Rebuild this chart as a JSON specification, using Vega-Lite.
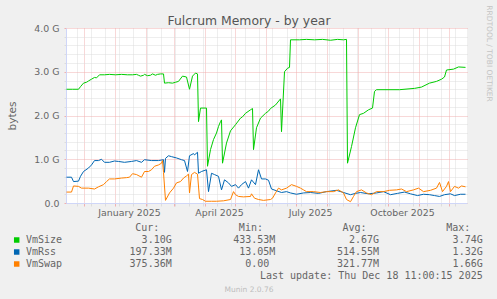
{
 "$schema": "https://vega.github.io/schema/vega-lite/v6.json",
 "width": 401,
 "height": 175,
 "autosize": {"type": "none"},
 "padding": {"left": 66, "top": 28, "right": 30, "bottom": 96},
 "background": "#f0f0f0",
 "view": {"fill": "#ffffff", "stroke": null},
 "config": {"font": "DejaVu Sans"},
 "datasets": {
  "mem": [
   {"date":"2024-11-14","series":"VmSize","value":2.60},{"date":"2024-11-20","series":"VmSize","value":2.60},{"date":"2024-11-26","series":"VmSize","value":2.60},{"date":"2024-11-28","series":"VmSize","value":2.66},{"date":"2024-12-01","series":"VmSize","value":2.74},{"date":"2024-12-04","series":"VmSize","value":2.76},{"date":"2024-12-06","series":"VmSize","value":2.79},{"date":"2024-12-09","series":"VmSize","value":2.83},{"date":"2024-12-12","series":"VmSize","value":2.87},{"date":"2024-12-14","series":"VmSize","value":2.86},{"date":"2024-12-17","series":"VmSize","value":2.93},{"date":"2024-12-22","series":"VmSize","value":2.93},{"date":"2024-12-27","series":"VmSize","value":2.94},{"date":"2025-01-02","series":"VmSize","value":2.93},{"date":"2025-01-08","series":"VmSize","value":2.94},{"date":"2025-01-14","series":"VmSize","value":2.93},{"date":"2025-01-19","series":"VmSize","value":2.93},{"date":"2025-01-23","series":"VmSize","value":2.94},{"date":"2025-01-25","series":"VmSize","value":2.92},{"date":"2025-01-27","series":"VmSize","value":2.90},{"date":"2025-01-30","series":"VmSize","value":2.92},{"date":"2025-01-31","series":"VmSize","value":2.94},{"date":"2025-02-03","series":"VmSize","value":2.91},{"date":"2025-02-06","series":"VmSize","value":2.92},{"date":"2025-02-08","series":"VmSize","value":2.95},{"date":"2025-02-11","series":"VmSize","value":2.92},{"date":"2025-02-13","series":"VmSize","value":2.94},{"date":"2025-02-16","series":"VmSize","value":2.95},{"date":"2025-02-19","series":"VmSize","value":2.95},{"date":"2025-02-20","series":"VmSize","value":2.74},{"date":"2025-02-24","series":"VmSize","value":2.75},{"date":"2025-02-28","series":"VmSize","value":2.74},{"date":"2025-03-03","series":"VmSize","value":2.76},{"date":"2025-03-06","series":"VmSize","value":2.78},{"date":"2025-03-10","series":"VmSize","value":2.90},{"date":"2025-03-14","series":"VmSize","value":2.88},{"date":"2025-03-17","series":"VmSize","value":2.60},{"date":"2025-03-20","series":"VmSize","value":2.90},{"date":"2025-03-23","series":"VmSize","value":2.97},{"date":"2025-03-25","series":"VmSize","value":2.95},{"date":"2025-03-26","series":"VmSize","value":1.86},{"date":"2025-03-28","series":"VmSize","value":2.17},{"date":"2025-04-03","series":"VmSize","value":2.17},{"date":"2025-04-04","series":"VmSize","value":0.84},{"date":"2025-04-07","series":"VmSize","value":1.22},{"date":"2025-04-10","series":"VmSize","value":1.45},{"date":"2025-04-13","series":"VmSize","value":1.60},{"date":"2025-04-15","series":"VmSize","value":1.75},{"date":"2025-04-17","series":"VmSize","value":1.86},{"date":"2025-04-18","series":"VmSize","value":1.90},{"date":"2025-04-19","series":"VmSize","value":0.91},{"date":"2025-04-23","series":"VmSize","value":1.37},{"date":"2025-04-27","series":"VmSize","value":1.65},{"date":"2025-05-02","series":"VmSize","value":1.79},{"date":"2025-05-07","series":"VmSize","value":1.94},{"date":"2025-05-09","series":"VmSize","value":1.97},{"date":"2025-05-12","series":"VmSize","value":2.05},{"date":"2025-05-17","series":"VmSize","value":2.13},{"date":"2025-05-19","series":"VmSize","value":2.16},{"date":"2025-05-20","series":"VmSize","value":1.22},{"date":"2025-05-23","series":"VmSize","value":1.72},{"date":"2025-05-27","series":"VmSize","value":1.94},{"date":"2025-06-01","series":"VmSize","value":2.05},{"date":"2025-06-04","series":"VmSize","value":2.10},{"date":"2025-06-06","series":"VmSize","value":2.16},{"date":"2025-06-11","series":"VmSize","value":2.24},{"date":"2025-06-16","series":"VmSize","value":2.38},{"date":"2025-06-17","series":"VmSize","value":1.63},{"date":"2025-06-20","series":"VmSize","value":3.00},{"date":"2025-06-23","series":"VmSize","value":3.08},{"date":"2025-06-25","series":"VmSize","value":3.10},{"date":"2025-06-26","series":"VmSize","value":3.73},{"date":"2025-07-05","series":"VmSize","value":3.73},{"date":"2025-07-12","series":"VmSize","value":3.74},{"date":"2025-07-20","series":"VmSize","value":3.73},{"date":"2025-07-28","series":"VmSize","value":3.74},{"date":"2025-08-05","series":"VmSize","value":3.72},{"date":"2025-08-12","series":"VmSize","value":3.74},{"date":"2025-08-18","series":"VmSize","value":3.73},{"date":"2025-08-21","series":"VmSize","value":3.74},{"date":"2025-08-22","series":"VmSize","value":0.91},{"date":"2025-08-26","series":"VmSize","value":1.29},{"date":"2025-08-30","series":"VmSize","value":1.72},{"date":"2025-09-03","series":"VmSize","value":2.02},{"date":"2025-09-07","series":"VmSize","value":2.05},{"date":"2025-09-12","series":"VmSize","value":2.13},{"date":"2025-09-16","series":"VmSize","value":2.17},{"date":"2025-09-18","series":"VmSize","value":2.55},{"date":"2025-09-20","series":"VmSize","value":2.59},{"date":"2025-10-13","series":"VmSize","value":2.59},{"date":"2025-10-28","series":"VmSize","value":2.62},{"date":"2025-11-04","series":"VmSize","value":2.65},{"date":"2025-11-12","series":"VmSize","value":2.74},{"date":"2025-11-19","series":"VmSize","value":2.78},{"date":"2025-11-24","series":"VmSize","value":2.83},{"date":"2025-11-27","series":"VmSize","value":2.88},{"date":"2025-11-29","series":"VmSize","value":3.04},{"date":"2025-12-06","series":"VmSize","value":3.06},{"date":"2025-12-11","series":"VmSize","value":3.11},{"date":"2025-12-18","series":"VmSize","value":3.10},
   {"date":"2024-11-14","series":"VmRss","value":0.59},{"date":"2024-11-19","series":"VmRss","value":0.59},{"date":"2024-11-21","series":"VmRss","value":0.49},{"date":"2024-11-26","series":"VmRss","value":0.50},{"date":"2024-11-28","series":"VmRss","value":0.61},{"date":"2024-12-01","series":"VmRss","value":0.72},{"date":"2024-12-06","series":"VmRss","value":0.80},{"date":"2024-12-09","series":"VmRss","value":0.87},{"date":"2024-12-12","series":"VmRss","value":0.97},{"date":"2024-12-16","series":"VmRss","value":0.97},{"date":"2024-12-19","series":"VmRss","value":1.00},{"date":"2024-12-22","series":"VmRss","value":0.93},{"date":"2024-12-27","series":"VmRss","value":0.93},{"date":"2025-01-01","series":"VmRss","value":0.96},{"date":"2025-01-05","series":"VmRss","value":0.95},{"date":"2025-01-11","series":"VmRss","value":0.93},{"date":"2025-01-18","series":"VmRss","value":0.95},{"date":"2025-01-23","series":"VmRss","value":0.97},{"date":"2025-01-28","series":"VmRss","value":0.93},{"date":"2025-01-31","series":"VmRss","value":0.99},{"date":"2025-02-07","series":"VmRss","value":0.97},{"date":"2025-02-14","series":"VmRss","value":0.97},{"date":"2025-02-19","series":"VmRss","value":0.99},{"date":"2025-02-20","series":"VmRss","value":0.70},{"date":"2025-02-21","series":"VmRss","value":1.02},{"date":"2025-02-24","series":"VmRss","value":1.08},{"date":"2025-02-27","series":"VmRss","value":1.06},{"date":"2025-03-04","series":"VmRss","value":1.03},{"date":"2025-03-09","series":"VmRss","value":0.99},{"date":"2025-03-12","series":"VmRss","value":0.97},{"date":"2025-03-15","series":"VmRss","value":0.72},{"date":"2025-03-17","series":"VmRss","value":1.08},{"date":"2025-03-21","series":"VmRss","value":1.13},{"date":"2025-03-22","series":"VmRss","value":1.10},{"date":"2025-03-25","series":"VmRss","value":1.16},{"date":"2025-03-26","series":"VmRss","value":0.68},{"date":"2025-03-29","series":"VmRss","value":0.72},{"date":"2025-04-03","series":"VmRss","value":0.76},{"date":"2025-04-05","series":"VmRss","value":0.26},{"date":"2025-04-08","series":"VmRss","value":0.68},{"date":"2025-04-11","series":"VmRss","value":0.65},{"date":"2025-04-15","series":"VmRss","value":0.61},{"date":"2025-04-18","series":"VmRss","value":0.30},{"date":"2025-04-21","series":"VmRss","value":0.53},{"date":"2025-04-25","series":"VmRss","value":0.46},{"date":"2025-04-28","series":"VmRss","value":0.38},{"date":"2025-05-02","series":"VmRss","value":0.42},{"date":"2025-05-05","series":"VmRss","value":0.34},{"date":"2025-05-08","series":"VmRss","value":0.42},{"date":"2025-05-12","series":"VmRss","value":0.49},{"date":"2025-05-15","series":"VmRss","value":0.34},{"date":"2025-05-18","series":"VmRss","value":0.53},{"date":"2025-05-22","series":"VmRss","value":0.42},{"date":"2025-05-25","series":"VmRss","value":0.76},{"date":"2025-05-28","series":"VmRss","value":0.55},{"date":"2025-06-01","series":"VmRss","value":0.55},{"date":"2025-06-04","series":"VmRss","value":0.52},{"date":"2025-06-07","series":"VmRss","value":0.32},{"date":"2025-06-12","series":"VmRss","value":0.28},{"date":"2025-06-17","series":"VmRss","value":0.24},{"date":"2025-06-22","series":"VmRss","value":0.26},{"date":"2025-06-26","series":"VmRss","value":0.23},{"date":"2025-07-02","series":"VmRss","value":0.20},{"date":"2025-07-09","series":"VmRss","value":0.23},{"date":"2025-07-16","series":"VmRss","value":0.24},{"date":"2025-07-24","series":"VmRss","value":0.22},{"date":"2025-08-01","series":"VmRss","value":0.26},{"date":"2025-08-11","series":"VmRss","value":0.29},{"date":"2025-08-18","series":"VmRss","value":0.24},{"date":"2025-08-25","series":"VmRss","value":0.19},{"date":"2025-08-30","series":"VmRss","value":0.22},{"date":"2025-09-04","series":"VmRss","value":0.24},{"date":"2025-09-12","series":"VmRss","value":0.21},{"date":"2025-09-20","series":"VmRss","value":0.23},{"date":"2025-09-27","series":"VmRss","value":0.26},{"date":"2025-10-04","series":"VmRss","value":0.19},{"date":"2025-10-11","series":"VmRss","value":0.22},{"date":"2025-10-18","series":"VmRss","value":0.25},{"date":"2025-10-24","series":"VmRss","value":0.21},{"date":"2025-10-31","series":"VmRss","value":0.17},{"date":"2025-11-06","series":"VmRss","value":0.20},{"date":"2025-11-12","series":"VmRss","value":0.19},{"date":"2025-11-17","series":"VmRss","value":0.17},{"date":"2025-11-22","series":"VmRss","value":0.15},{"date":"2025-11-27","series":"VmRss","value":0.19},{"date":"2025-12-03","series":"VmRss","value":0.21},{"date":"2025-12-07","series":"VmRss","value":0.17},{"date":"2025-12-13","series":"VmRss","value":0.20},{"date":"2025-12-18","series":"VmRss","value":0.20},
   {"date":"2024-11-14","series":"VmSwap","value":0.25},{"date":"2024-11-19","series":"VmSwap","value":0.25},{"date":"2024-11-21","series":"VmSwap","value":0.39},{"date":"2024-11-26","series":"VmSwap","value":0.38},{"date":"2024-11-29","series":"VmSwap","value":0.34},{"date":"2024-12-06","series":"VmSwap","value":0.34},{"date":"2024-12-12","series":"VmSwap","value":0.32},{"date":"2024-12-16","series":"VmSwap","value":0.37},{"date":"2024-12-21","series":"VmSwap","value":0.42},{"date":"2024-12-24","series":"VmSwap","value":0.49},{"date":"2024-12-27","series":"VmSwap","value":0.55},{"date":"2025-01-01","series":"VmSwap","value":0.55},{"date":"2025-01-08","series":"VmSwap","value":0.57},{"date":"2025-01-13","series":"VmSwap","value":0.58},{"date":"2025-01-16","series":"VmSwap","value":0.59},{"date":"2025-01-19","series":"VmSwap","value":0.67},{"date":"2025-01-23","series":"VmSwap","value":0.65},{"date":"2025-01-28","series":"VmSwap","value":0.59},{"date":"2025-01-31","series":"VmSwap","value":0.72},{"date":"2025-02-04","series":"VmSwap","value":0.72},{"date":"2025-02-07","series":"VmSwap","value":0.76},{"date":"2025-02-10","series":"VmSwap","value":0.84},{"date":"2025-02-14","series":"VmSwap","value":0.87},{"date":"2025-02-17","series":"VmSwap","value":0.91},{"date":"2025-02-18","series":"VmSwap","value":0.97},{"date":"2025-02-19","series":"VmSwap","value":0.70},{"date":"2025-02-21","series":"VmSwap","value":0.06},{"date":"2025-02-25","series":"VmSwap","value":0.23},{"date":"2025-03-01","series":"VmSwap","value":0.34},{"date":"2025-03-04","series":"VmSwap","value":0.46},{"date":"2025-03-08","series":"VmSwap","value":0.49},{"date":"2025-03-11","series":"VmSwap","value":0.57},{"date":"2025-03-14","series":"VmSwap","value":0.62},{"date":"2025-03-16","series":"VmSwap","value":0.66},{"date":"2025-03-17","series":"VmSwap","value":0.23},{"date":"2025-03-19","series":"VmSwap","value":0.65},{"date":"2025-03-22","series":"VmSwap","value":0.70},{"date":"2025-03-25","series":"VmSwap","value":0.66},{"date":"2025-03-27","series":"VmSwap","value":0.10},{"date":"2025-03-30","series":"VmSwap","value":0.08},{"date":"2025-04-02","series":"VmSwap","value":0.04},{"date":"2025-04-08","series":"VmSwap","value":0.04},{"date":"2025-04-13","series":"VmSwap","value":0.04},{"date":"2025-04-20","series":"VmSwap","value":0.05},{"date":"2025-04-27","series":"VmSwap","value":0.08},{"date":"2025-04-30","series":"VmSwap","value":0.26},{"date":"2025-05-02","series":"VmSwap","value":0.19},{"date":"2025-05-05","series":"VmSwap","value":0.15},{"date":"2025-05-10","series":"VmSwap","value":0.14},{"date":"2025-05-17","series":"VmSwap","value":0.15},{"date":"2025-05-18","series":"VmSwap","value":0.21},{"date":"2025-05-21","series":"VmSwap","value":0.11},{"date":"2025-05-25","series":"VmSwap","value":0.08},{"date":"2025-05-30","series":"VmSwap","value":0.06},{"date":"2025-06-06","series":"VmSwap","value":0.08},{"date":"2025-06-08","series":"VmSwap","value":0.11},{"date":"2025-06-11","series":"VmSwap","value":0.23},{"date":"2025-06-14","series":"VmSwap","value":0.34},{"date":"2025-06-17","series":"VmSwap","value":0.30},{"date":"2025-06-22","series":"VmSwap","value":0.34},{"date":"2025-06-27","series":"VmSwap","value":0.42},{"date":"2025-07-02","series":"VmSwap","value":0.38},{"date":"2025-07-06","series":"VmSwap","value":0.34},{"date":"2025-07-09","series":"VmSwap","value":0.30},{"date":"2025-07-12","series":"VmSwap","value":0.26},{"date":"2025-07-19","series":"VmSwap","value":0.26},{"date":"2025-07-26","series":"VmSwap","value":0.24},{"date":"2025-08-01","series":"VmSwap","value":0.26},{"date":"2025-08-08","series":"VmSwap","value":0.26},{"date":"2025-08-13","series":"VmSwap","value":0.30},{"date":"2025-08-18","series":"VmSwap","value":0.23},{"date":"2025-08-21","series":"VmSwap","value":0.08},{"date":"2025-08-25","series":"VmSwap","value":0.03},{"date":"2025-08-28","series":"VmSwap","value":0.15},{"date":"2025-08-31","series":"VmSwap","value":0.26},{"date":"2025-09-05","series":"VmSwap","value":0.30},{"date":"2025-09-10","series":"VmSwap","value":0.23},{"date":"2025-09-15","series":"VmSwap","value":0.19},{"date":"2025-09-20","series":"VmSwap","value":0.26},{"date":"2025-09-27","series":"VmSwap","value":0.26},{"date":"2025-10-03","series":"VmSwap","value":0.29},{"date":"2025-10-10","series":"VmSwap","value":0.30},{"date":"2025-10-15","series":"VmSwap","value":0.32},{"date":"2025-10-20","series":"VmSwap","value":0.26},{"date":"2025-10-27","series":"VmSwap","value":0.30},{"date":"2025-11-01","series":"VmSwap","value":0.34},{"date":"2025-11-06","series":"VmSwap","value":0.26},{"date":"2025-11-13","series":"VmSwap","value":0.29},{"date":"2025-11-19","series":"VmSwap","value":0.34},{"date":"2025-11-22","series":"VmSwap","value":0.47},{"date":"2025-11-25","series":"VmSwap","value":0.26},{"date":"2025-11-29","series":"VmSwap","value":0.38},{"date":"2025-12-01","series":"VmSwap","value":0.49},{"date":"2025-12-03","series":"VmSwap","value":0.26},{"date":"2025-12-07","series":"VmSwap","value":0.38},{"date":"2025-12-11","series":"VmSwap","value":0.34},{"date":"2025-12-14","series":"VmSwap","value":0.39},{"date":"2025-12-18","series":"VmSwap","value":0.37}
  ],
  "series": [{"series":"VmSize"},{"series":"VmRss"},{"series":"VmSwap"}],
  "stats": [
   {"series":"VmSize","col":"Cur","num":"3.10","unit":"G"},{"series":"VmSize","col":"Min","num":"433.53","unit":"M"},{"series":"VmSize","col":"Avg","num":"2.67","unit":"G"},{"series":"VmSize","col":"Max","num":"3.74","unit":"G"},
   {"series":"VmRss","col":"Cur","num":"197.33","unit":"M"},{"series":"VmRss","col":"Min","num":"13.05","unit":"M"},{"series":"VmRss","col":"Avg","num":"514.55","unit":"M"},{"series":"VmRss","col":"Max","num":"1.32","unit":"G"},
   {"series":"VmSwap","col":"Cur","num":"375.36","unit":"M"},{"series":"VmSwap","col":"Min","num":"0.00","unit":""},{"series":"VmSwap","col":"Avg","num":"321.77","unit":"M"},{"series":"VmSwap","col":"Max","num":"1.66","unit":"G"}
  ],
  "headers": [{"col":"Cur","label":"Cur:"},{"col":"Min","label":"Min:"},{"col":"Avg","label":"Avg:"},{"col":"Max","label":"Max:"}],
  "info": [{"text":"Last update: Thu Dec 18 11:00:15 2025"}]
 },
 "layer": [
  {
   "data": {"name": "mem"},
   "mark": {"type": "line", "strokeWidth": 1},
   "encoding": {
    "x": {"field": "date", "type": "temporal",
     "scale": {"type": "utc", "domain": [{"year":2024,"month":11,"date":13,"hours":12,"utc":true},{"year":2025,"month":12,"date":19,"hours":12,"utc":true}]},
     "axis": {
      "values": [
       {"year":2024,"month":11,"date":24,"utc":true},{"year":2024,"month":12,"date":1,"utc":true},{"year":2024,"month":12,"date":8,"utc":true},{"year":2024,"month":12,"date":22,"utc":true},
       {"year":2025,"month":1,"date":1,"utc":true},{"year":2025,"month":1,"date":5,"utc":true},{"year":2025,"month":1,"date":19,"utc":true},
       {"year":2025,"month":2,"date":1,"utc":true},{"year":2025,"month":2,"date":2,"utc":true},{"year":2025,"month":2,"date":16,"utc":true},
       {"year":2025,"month":3,"date":1,"utc":true},{"year":2025,"month":3,"date":2,"utc":true},{"year":2025,"month":3,"date":16,"utc":true},{"year":2025,"month":3,"date":30,"utc":true},
       {"year":2025,"month":4,"date":1,"utc":true},{"year":2025,"month":4,"date":13,"utc":true},{"year":2025,"month":4,"date":27,"utc":true},
       {"year":2025,"month":5,"date":1,"utc":true},{"year":2025,"month":5,"date":11,"utc":true},{"year":2025,"month":5,"date":25,"utc":true},
       {"year":2025,"month":6,"date":1,"utc":true},{"year":2025,"month":6,"date":8,"utc":true},{"year":2025,"month":6,"date":22,"utc":true},
       {"year":2025,"month":7,"date":1,"utc":true},{"year":2025,"month":7,"date":6,"utc":true},{"year":2025,"month":7,"date":20,"utc":true},
       {"year":2025,"month":8,"date":1,"utc":true},{"year":2025,"month":8,"date":3,"utc":true},{"year":2025,"month":8,"date":17,"utc":true},{"year":2025,"month":8,"date":31,"utc":true},
       {"year":2025,"month":9,"date":1,"utc":true},{"year":2025,"month":9,"date":14,"utc":true},{"year":2025,"month":9,"date":28,"utc":true},
       {"year":2025,"month":10,"date":1,"utc":true},{"year":2025,"month":10,"date":12,"utc":true},{"year":2025,"month":10,"date":26,"utc":true},
       {"year":2025,"month":11,"date":1,"utc":true},{"year":2025,"month":11,"date":9,"utc":true},{"year":2025,"month":11,"date":23,"utc":true},
       {"year":2025,"month":12,"date":1,"utc":true},{"year":2025,"month":12,"date":7,"utc":true}
      ],
      "grid": true,
      "gridDash": [1, 1],
      "gridColor": {"condition": {"test": "utcdate(datum.value) == 1", "value": "#f0b0b0"}, "value": "#dcdcdc"},
      "tickColor": {"condition": {"test": "utcdate(datum.value) == 1", "value": "#f0b0b0"}, "value": "#dcdcdc"},
      "tickSize": 3,
      "domainColor": "#cfd6f8",
      "labelExpr": "utcdate(datum.value) == 1 && utcmonth(datum.value) % 3 == 0 ? utcFormat(datum.value, '%B %Y') : ''",
      "labelOffset": 14.5,
      "labelOverlap": false,
      "labelFlush": false,
      "labelBound": false,
      "labelPadding": 2,
      "labelFont": "DejaVu Sans",
      "labelFontSize": 9.4,
      "labelColor": "#666666",
      "title": "Munin 2.0.76",
      "titleX": 182.5,
      "titleY": 88,
      "titleAlign": "center",
      "titleBaseline": "alphabetic",
      "titleFont": "DejaVu Sans",
      "titleFontSize": 7.5,
      "titleFontWeight": "normal",
      "titleColor": "#bdbdbd"
     }
    },
    "y": {"field": "value", "type": "quantitative",
     "scale": {"domain": [0, 4], "nice": false},
     "axis": {
      "values": [0,0.2,0.4,0.6,0.8,1,1.2,1.4,1.6,1.8,2,2.2,2.4,2.6,2.8,3,3.2,3.4,3.6,3.8,4],
      "grid": true,
      "gridDash": [1, 1],
      "gridColor": {"condition": {"test": "abs(datum.value - round(datum.value)) < 0.01", "value": "#f0b0b0"}, "value": "#dcdcdc"},
      "tickColor": {"condition": {"test": "abs(datum.value - round(datum.value)) < 0.01", "value": "#f0b0b0"}, "value": "#dcdcdc"},
      "tickSize": 2,
      "domainColor": "#cfd6f8",
      "labelExpr": "datum.value == 0 ? '0.0' : (abs(datum.value - round(datum.value)) < 0.01 ? format(datum.value, '.1f') + ' G' : '')",
      "labelOverlap": false,
      "labelPadding": 5,
      "labelFont": "DejaVu Sans",
      "labelFontSize": 9.4,
      "labelColor": "#666666",
      "title": "bytes",
      "titleX": -50.5,
      "titleY": 87.5,
      "titleAngle": 270,
      "titleAlign": "center",
      "titleBaseline": "alphabetic",
      "titleFont": "DejaVu Sans",
      "titleFontSize": 10.5,
      "titleFontWeight": "normal",
      "titleColor": "#666666"
     }
    },
    "color": {"field": "series", "type": "nominal",
     "scale": {"domain": ["VmSize", "VmRss", "VmSwap"], "range": ["#00cc00", "#0066b3", "#ff8000"]},
     "legend": null}
   }
  },
  {
   "data": {"name": "series"},
   "mark": {"type": "point", "shape": "square", "filled": true, "size": 30, "opacity": 1, "yOffset": -3},
   "encoding": {
    "x": {"datum": "swatch", "type": "nominal",
     "scale": {"type": "point", "domain": ["swatch", "name"], "range": [-49.3, -40], "padding": 0},
     "axis": {"orient": "top", "domain": false, "ticks": false, "labels": false, "grid": false,
      "title": "Fulcrum Memory - by year", "titleX": 182.5, "titleY": -4, "titleAlign": "center", "titleBaseline": "alphabetic",
      "titleFont": "DejaVu Sans", "titleFontSize": 12.4, "titleFontWeight": "normal", "titleColor": "#555555"}},
    "y": {"field": "series", "type": "nominal",
     "scale": {"type": "point", "domain": ["header", "VmSize", "VmRss", "VmSwap", "update"], "range": [203, 251], "padding": 0},
     "axis": {"orient": "right", "domain": false, "ticks": false, "labels": false, "grid": false,
      "title": "RRDTOOL / TOBI OETIKER", "titleX": 21, "titleY": 25, "titleAngle": 90, "titleAlign": "center", "titleBaseline": "middle",
      "titleFont": "DejaVu Sans", "titleFontSize": 7.5, "titleFontWeight": "normal", "titleColor": "#c4c4c4"}},
    "color": {"field": "series", "type": "nominal", "legend": null}
   }
  },
  {
   "data": {"name": "series"},
   "mark": {"type": "text", "align": "left", "baseline": "alphabetic", "font": "DejaVu Sans Mono", "fontSize": 10, "fill": "#666666"},
   "encoding": {
    "x": {"datum": "name", "type": "nominal", "scale": {"type": "point", "domain": ["swatch", "name"], "range": [-49.3, -40], "padding": 0}, "axis": null},
    "y": {"field": "series", "type": "nominal", "scale": {"type": "point", "domain": ["header", "VmSize", "VmRss", "VmSwap", "update"], "range": [203, 251], "padding": 0}, "axis": null},
    "text": {"field": "series"}
   }
  },
  {
   "data": {"name": "stats"},
   "mark": {"type": "text", "align": "right", "baseline": "alphabetic", "font": "DejaVu Sans Mono", "fontSize": 10, "fill": "#666666"},
   "encoding": {
    "x": {"field": "col", "type": "nominal", "scale": {"type": "point", "domain": ["Cur", "Min", "Avg", "Max"], "range": [99.7, 410.7], "padding": 0}, "axis": null},
    "y": {"field": "series", "type": "nominal", "scale": {"type": "point", "domain": ["header", "VmSize", "VmRss", "VmSwap", "update"], "range": [203, 251], "padding": 0}, "axis": null},
    "text": {"field": "num"}
   }
  },
  {
   "data": {"name": "stats"},
   "mark": {"type": "text", "align": "left", "baseline": "alphabetic", "font": "DejaVu Sans Mono", "fontSize": 10, "fill": "#666666"},
   "encoding": {
    "x": {"field": "col", "type": "nominal", "scale": {"type": "point", "domain": ["Cur", "Min", "Avg", "Max"], "range": [99.7, 410.7], "padding": 0}, "axis": null},
    "y": {"field": "series", "type": "nominal", "scale": {"type": "point", "domain": ["header", "VmSize", "VmRss", "VmSwap", "update"], "range": [203, 251], "padding": 0}, "axis": null},
    "text": {"field": "unit"}
   }
  },
  {
   "data": {"name": "headers"},
   "mark": {"type": "text", "align": "right", "baseline": "alphabetic", "dx": -6.4, "font": "DejaVu Sans Mono", "fontSize": 10, "fill": "#666666"},
   "encoding": {
    "x": {"field": "col", "type": "nominal", "scale": {"type": "point", "domain": ["Cur", "Min", "Avg", "Max"], "range": [99.7, 410.7], "padding": 0}, "axis": null},
    "y": {"datum": "header", "type": "nominal", "scale": {"type": "point", "domain": ["header", "VmSize", "VmRss", "VmSwap", "update"], "range": [203, 251], "padding": 0}, "axis": null},
    "text": {"field": "label"}
   }
  },
  {
   "data": {"name": "info"},
   "mark": {"type": "text", "align": "right", "baseline": "alphabetic", "dx": 6, "font": "DejaVu Sans Mono", "fontSize": 10, "fill": "#666666"},
   "encoding": {
    "x": {"datum": "Max", "type": "nominal", "scale": {"type": "point", "domain": ["Cur", "Min", "Avg", "Max"], "range": [99.7, 410.7], "padding": 0}, "axis": null},
    "y": {"datum": "update", "type": "nominal", "scale": {"type": "point", "domain": ["header", "VmSize", "VmRss", "VmSwap", "update"], "range": [203, 251], "padding": 0}, "axis": null},
    "text": {"field": "text"}
   }
  }
 ],
 "resolve": {"scale": {"x": "independent", "y": "independent"}}
}
